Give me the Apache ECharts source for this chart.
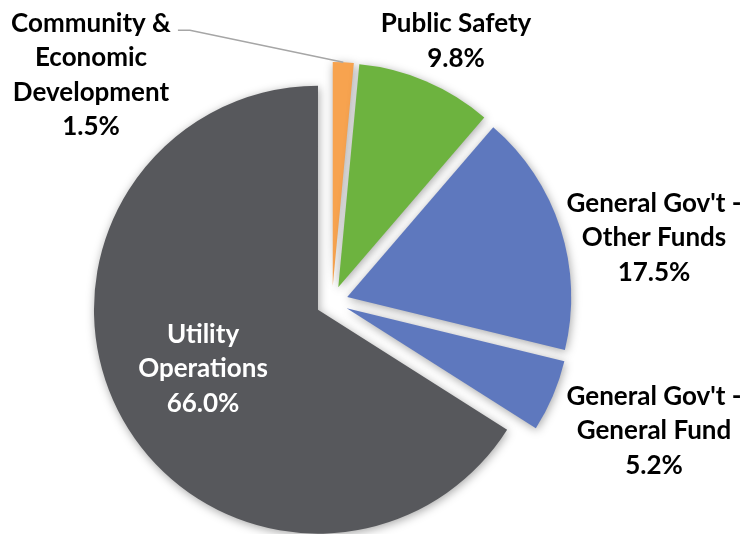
<!DOCTYPE html>
<html>
<head>
<meta charset="utf-8">
<script src="https://cdn.jsdelivr.net/npm/echarts@6/dist/echarts.min.js"></script>
<style>
  html, body { margin: 0; padding: 0; background: #ffffff; }
  #chart { width: 746px; height: 534px; }
</style>
</head>
<body>
<div id="chart"></div>
<script>
// Budget share by function (percent of total)
const categories = [
  "Community &\nEconomic\nDevelopment",
  "Public Safety",
  "General Gov't -\nOther Funds",
  "General Gov't -\nGeneral Fund",
  "Utility\nOperations"
];
const shares = [1.5, 9.8, 17.5, 5.2, 66.0];

// Styling
const sliceColors = ['#F7A34F', '#6DB33F', '#5E78BE', '#5E78BE', '#57585C'];
const labelColors = ['#000000', '#000000', '#000000', '#000000', '#ffffff'];
// centre of each label block, in pixels
const labelCentres = [[91, 75], [456, 41], [654, 238], [654, 431], [203, 369]];
const FONT = 'Lato';
const FONT_SIZE = 26;
const LINE_H = 34.5;
const EXPLODE = 16;

const chart = echarts.init(document.getElementById('chart'), null, { renderer: 'canvas' });

const pieData = categories.map((name, i) => ({
  name: name,
  value: shares[i],
  selected: true,
  itemStyle: { color: sliceColors[i] }
}));

chart.setOption({
  animation: false,
  backgroundColor: '#ffffff',
  series: [{
    type: 'pie',
    center: [332, 302],
    radius: 224,
    startAngle: 90,
    clockwise: true,
    selectedMode: 'multiple',
    selectedOffset: EXPLODE,
    data: pieData,
    itemStyle: {
      borderWidth: 0,
      shadowBlur: 10,
      shadowOffsetX: 1,
      shadowOffsetY: 2,
      shadowColor: 'rgba(0,0,0,0.35)'
    },
    emphasis: { disabled: true },
    label: { show: false },
    labelLine: { show: false }
  }]
});

// Slice labels: name + share, placed beside each slice
const labelText = (i) => categories[i] + '\n' + shares[i].toFixed(1) + '%';
const textEls = categories.map((_, i) => ({
  type: 'text',
  x: labelCentres[i][0],
  y: labelCentres[i][1],
  silent: true,
  z: 10,
  style: {
    text: labelText(i),
    fill: labelColors[i],
    fontFamily: FONT,
    fontWeight: 'bold',
    fontSize: FONT_SIZE,
    lineHeight: LINE_H,
    align: 'center',
    verticalAlign: 'middle',
    textAlign: 'center',
    textVerticalAlign: 'middle'
  }
}));

// Leader line for the small first slice: starts on the slice's outer arc
// (taken from the pie's own layout) and runs to the first line of its label.
const layout = chart.getModel().getSeriesByIndex(0).getData().getItemLayout(0);
const mid = (layout.startAngle + layout.endAngle) / 2;
const vx = layout.cx + EXPLODE * Math.cos(mid);
const vy = layout.cy + EXPLODE * Math.sin(mid);
const arcPt = [vx + layout.r * Math.cos(mid), vy + layout.r * Math.sin(mid)];
const probe = new echarts.graphic.Text({ style: textEls[0].style });
const rect = probe.getBoundingRect();
const lineEnd = [
  labelCentres[0][0] + rect.width / 2 + 7,
  labelCentres[0][1] - rect.height / 2 + LINE_H / 2 + 7
];
const leader = {
  type: 'polyline',
  silent: true,
  z: 5,
  shape: { points: [arcPt, [lineEnd[0] + 12, lineEnd[1]], lineEnd] },
  style: { stroke: '#A6A6A6', lineWidth: 1.5, fill: null }
};

chart.setOption({ graphic: { elements: [leader].concat(textEls) } });
</script>
</body>
</html>
